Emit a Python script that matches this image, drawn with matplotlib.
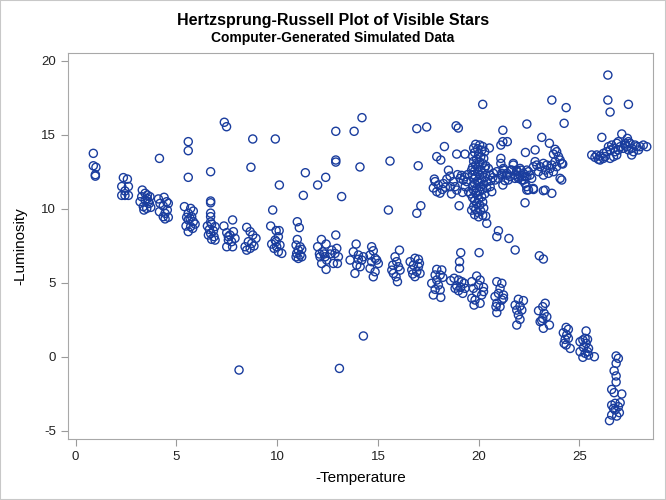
import matplotlib.pyplot as plt
from matplotlib.patches import Rectangle

# star positions (-temperature, -luminosity)
main_seq = [
    (0.88, 13.74), (0.88, 12.90), (1.01, 12.80), (0.98, 12.30), (0.98, 12.20),
    (2.37, 12.10), (2.57, 12.00), (2.29, 11.50), (2.62, 11.50), (2.45, 11.20), (2.29, 10.90), (2.45, 10.90), (2.62, 10.90),
    (3.31, 11.26), (3.45, 11.04), (3.56, 10.92), (3.69, 10.81), (3.20, 10.47), (3.45, 10.59), (3.61, 10.47), (3.36, 10.14),
    (3.53, 10.02), (3.73, 10.09), (3.39, 9.91), (3.66, 10.36), (3.28, 10.81), (3.56, 10.68),
    (4.11, 10.66), (4.39, 10.77), (4.52, 10.47), (4.19, 10.36), (4.35, 10.18), (4.60, 10.36), (4.16, 9.80), (4.44, 9.69),
    (4.55, 9.91), (4.35, 9.46), (4.60, 9.42), (4.44, 9.31),
    (5.40, 10.14), (5.71, 10.02), (5.84, 9.84), (5.59, 9.69), (5.51, 9.42), (5.68, 9.35), (5.76, 9.46), (5.59, 9.24),
    (5.84, 9.12), (5.48, 8.83), (5.71, 8.79), (5.93, 8.96), (5.59, 8.45), (5.81, 8.67),
    (6.70, 10.52), (6.70, 10.40), (6.70, 9.70), (6.70, 9.46), (6.70, 9.10), (6.54, 8.83), (6.75, 8.96), (6.92, 8.79),
    (6.64, 8.60), (6.84, 8.51), (6.70, 8.33), (6.59, 8.22), (6.87, 8.11), (6.75, 7.93), (6.92, 7.88),
    (7.79, 9.24), (7.36, 8.83), (7.50, 8.38), (7.66, 8.22), (7.83, 8.45), (7.91, 8.00), (7.58, 7.88), (7.74, 7.77),
    (7.50, 7.43), (7.79, 7.43), (7.58, 8.11),
    (8.49, 8.74), (8.66, 8.45), (8.79, 8.22), (8.95, 8.00), (8.57, 7.77), (8.74, 7.66), (8.41, 7.43), (8.66, 7.32),
    (8.85, 7.48), (8.49, 7.20),
    (9.68, 8.83), (9.95, 8.52), (10.10, 8.52), (9.73, 7.61), (9.90, 7.88), (10.06, 8.11), (9.98, 7.43), (10.14, 7.54),
    (9.85, 7.32), (10.06, 7.09), (10.23, 6.98), (9.95, 7.77),
    (11.00, 9.12), (11.10, 8.72), (11.00, 7.92), (10.94, 7.54), (11.14, 7.43), (11.05, 7.20), (11.22, 7.25), (10.97, 6.98),
    (11.14, 6.87), (11.05, 6.64), (11.22, 6.75), (10.94, 6.75),
    (12.01, 7.43), (12.20, 7.92), (12.43, 7.61), (12.10, 6.94), (12.26, 7.09), (12.38, 6.75), (12.21, 6.30), (12.46, 6.53),
    (12.71, 7.20), (12.96, 7.32), (12.87, 6.98), (13.04, 6.75), (12.79, 6.30), (12.99, 6.30), (12.43, 5.90), (12.13, 6.75),
    (12.33, 6.94), (12.63, 6.94), (12.91, 8.22),
    (13.92, 7.61), (13.78, 7.09), (14.03, 6.87), (14.20, 6.53), (13.95, 6.19), (14.12, 6.08), (13.86, 5.63), (13.62, 6.53),
    (14.28, 6.75), (14.03, 6.58),
    (14.69, 7.43), (14.77, 7.16), (14.61, 6.87), (14.86, 6.64), (14.69, 6.42), (14.94, 6.53), (14.61, 5.97), (14.86, 5.74),
    (14.77, 5.40), (15.02, 6.30),
    (16.07, 7.20), (15.85, 6.75), (15.93, 6.42), (15.74, 6.19), (16.02, 6.08), (15.77, 5.63), (15.90, 5.40), (16.10, 5.85),
    (15.97, 5.07), (15.69, 5.85),
    (16.60, 6.42), (16.84, 6.65), (17.01, 6.58), (16.76, 6.19), (17.01, 6.08), (16.68, 5.86), (16.93, 5.75), (17.09, 5.63),
    (16.84, 5.41), (16.73, 5.59), (17.06, 6.31),
    (17.92, 5.90), (18.17, 5.86), (17.84, 5.52), (18.09, 5.52), (17.67, 4.96), (17.92, 5.18), (18.00, 4.84), (17.84, 4.55),
    (18.09, 4.51), (17.75, 4.17), (18.12, 4.01), (18.22, 5.36),
    (19.05, 6.42), (19.05, 5.97), (18.61, 5.14), (18.78, 5.30), (19.00, 5.18), (19.16, 5.07), (19.28, 4.96), (18.91, 4.78),
    (19.11, 4.69), (19.32, 4.62), (19.00, 4.46), (19.21, 4.28), (18.83, 4.62),
    (19.90, 5.45), (20.07, 5.18), (19.66, 5.07), (19.99, 4.84), (20.24, 4.69), (19.74, 4.62), (19.90, 4.33), (20.15, 4.17),
    (19.66, 3.95), (19.82, 3.83), (20.07, 3.61), (20.24, 4.40), (19.77, 3.49),
    (20.90, 5.07), (21.15, 4.96), (21.06, 4.62), (20.98, 4.28), (21.23, 4.17), (20.81, 4.06), (21.15, 3.83), (20.90, 3.61),
    (21.06, 3.38), (20.86, 3.38), (20.90, 2.98), (21.23, 3.95),
    (21.97, 3.88), (22.22, 3.79), (21.81, 3.49), (22.05, 3.42), (21.89, 3.15), (22.14, 3.15), (21.97, 2.82), (22.05, 2.52),
    (21.89, 2.14),
    (23.30, 3.61), (23.18, 3.38), (22.97, 3.11), (23.25, 2.93), (23.38, 2.70), (23.18, 2.59), (23.51, 2.14), (23.13, 2.43),
    (23.21, 1.92), (23.05, 2.37),
    (24.34, 1.98), (24.45, 1.85), (24.20, 1.62), (24.37, 1.47), (24.29, 1.17), (24.45, 1.24), (24.34, 0.79), (24.54, 0.56),
    (24.24, 0.90),
    (25.33, 1.74), (25.28, 1.24), (25.17, 1.13), (25.40, 1.17), (25.03, 1.01), (25.33, 0.90), (25.20, 0.63), (25.45, 0.56),
    (25.03, 0.34), (25.28, 0.23), (25.45, 0.11), (25.17, -0.04), (25.74, 0.00), (25.40, 0.34),
    (26.82, 0.05), (26.93, -0.11), (26.82, -0.45), (26.72, -0.95), (26.82, -1.30), (26.82, -1.71), (26.60, -2.21),
    (26.72, -2.43), (27.10, -2.52), (26.60, -3.27), (26.77, -3.15), (26.93, -3.38), (26.69, -3.49), (26.98, -3.78),
    (26.77, -3.60), (26.60, -3.94), (26.85, -4.01), (26.49, -4.32), (27.02, -3.11),
]

dwarfs = [(8.11, -0.90), (13.09, -0.79), (14.28, 1.40)]

scattered = [
    (4.16, 13.40), (5.59, 14.53), (5.59, 13.92), (5.59, 12.12), (6.70, 12.50), (7.38, 15.84), (7.49, 15.54),
    (8.79, 14.71), (8.70, 12.80), (9.91, 14.71), (10.11, 11.60), (9.78, 9.91), (11.40, 12.43), (11.30, 10.90),
    (12.01, 11.60), (12.41, 12.12), (12.91, 15.23), (12.91, 13.29), (12.91, 13.15), (13.20, 10.82), (13.82, 15.23),
    (14.21, 16.15), (14.11, 12.82), (15.60, 13.22), (15.52, 9.91), (16.93, 9.69), (17.13, 10.20), (19.03, 10.20),
    (22.30, 10.40), (20.40, 9.01), (20.98, 8.51), (20.90, 8.11), (21.50, 7.99), (21.81, 7.21), (19.11, 7.03),
    (20.02, 7.03), (23.01, 6.82), (23.21, 6.60), (20.20, 17.05), (16.93, 15.41), (17.42, 15.52), (18.88, 15.60),
    (18.99, 15.45), (22.39, 15.72), (21.20, 15.30), (17.00, 12.90), (18.30, 14.20), (17.92, 13.52), (18.12, 13.29),
    (18.91, 13.69), (19.32, 13.69), (21.10, 14.30), (21.20, 14.53), (21.42, 14.53), (21.10, 13.40), (21.10, 13.06),
    (20.53, 14.10), (22.32, 13.80), (26.41, 19.03), (26.41, 17.34), (26.52, 16.53), (27.43, 17.05), (23.63, 17.34),
    (24.34, 16.83), (24.24, 15.77), (23.13, 14.82), (23.51, 14.42), (22.80, 13.97), (26.11, 14.82), (27.10, 15.05),
    (27.38, 14.75), (22.72, 11.30), (23.21, 11.22), (22.47, 11.27),
]

giants = [
    # band left of the vertical clump
    (17.84, 11.83), (18.00, 11.60), (17.92, 11.15), (18.08, 11.05), (18.25, 11.70), (18.42, 12.00), (18.58, 12.20),
    (18.50, 12.60), (18.74, 11.83), (18.83, 11.49), (18.91, 11.26), (19.08, 12.05), (19.24, 11.94), (19.41, 11.83),
    (19.33, 11.49), (19.50, 11.15), (18.60, 11.49), (17.75, 11.40), (18.20, 11.30), (18.35, 11.45), (18.95, 12.30),
    (19.15, 12.25), (19.30, 12.15), (19.45, 12.30), (17.80, 12.00), (18.65, 11.00), (19.20, 11.10),
    # vertical clump near 20
    (19.85, 14.35), (20.05, 14.30), (20.20, 14.20), (19.75, 14.10), (19.95, 14.05), (20.15, 13.95), (20.30, 13.85),
    (19.80, 13.80), (20.00, 13.70), (19.70, 13.55), (20.10, 13.50), (20.25, 13.40), (19.90, 13.35), (19.75, 13.20),
    (20.05, 13.15), (20.20, 13.05), (19.85, 12.95), (20.00, 12.85), (19.70, 12.80), (20.30, 12.75), (20.10, 12.65),
    (19.80, 12.55), (19.95, 12.50), (20.20, 12.40), (19.70, 12.30), (20.05, 12.25), (19.85, 12.15), (20.30, 12.10),
    (19.75, 12.00), (20.15, 11.95), (19.95, 11.85), (20.00, 11.75), (19.80, 11.70), (20.25, 11.65), (19.70, 11.55),
    (20.10, 11.50), (19.90, 11.40), (20.20, 11.30), (19.75, 11.25), (20.05, 11.15), (19.85, 11.05), (20.30, 11.00),
    (19.95, 10.90), (20.15, 10.80), (19.70, 10.75), (20.00, 10.65), (19.80, 10.55), (20.20, 10.45), (19.90, 10.35),
    (20.05, 10.25), (19.75, 10.15), (20.25, 10.05), (19.85, 9.95), (20.10, 9.85), (19.95, 9.75), (19.80, 9.60),
    (20.20, 9.55), (20.00, 9.45), (20.35, 9.50), (19.65, 9.90), (20.35, 12.90), (19.65, 12.60), (20.40, 11.40),
    (19.60, 11.00),
    # band right of the clump
    (20.48, 12.72), (20.57, 12.27), (20.73, 12.39), (20.82, 11.94), (20.98, 12.05), (21.15, 12.27), (21.23, 12.61),
    (21.40, 12.39), (21.56, 12.17), (21.72, 12.95), (21.89, 12.61), (22.05, 12.27), (22.22, 11.94), (22.39, 12.17),
    (22.47, 12.50), (21.97, 12.05), (22.30, 11.71), (22.39, 11.26), (20.57, 11.49), (20.65, 11.15), (20.40, 11.83),
    (20.60, 11.90), (20.90, 12.50), (21.30, 11.90), (21.60, 12.60), (21.80, 12.30), (22.10, 12.60), (21.20, 11.60),
    (20.70, 12.10),
    (21.14, 12.39), (21.39, 12.27), (21.64, 12.61), (21.72, 13.06), (21.89, 12.50), (22.05, 12.72), (22.22, 12.39),
    (22.39, 12.61), (22.55, 12.27), (22.72, 12.84), (22.80, 13.18), (22.88, 12.95), (23.05, 12.84), (23.21, 13.06),
    (23.30, 12.61), (23.38, 12.95), (23.46, 12.39), (23.55, 12.72), (23.71, 12.50), (22.97, 12.50), (21.47, 11.94),
    (21.80, 12.05), (22.30, 12.16), (22.63, 12.05), (23.21, 12.27), (21.23, 12.72), (24.04, 12.05), (24.12, 11.94),
    (22.38, 11.49), (22.71, 11.37), (23.30, 11.26), (23.63, 11.04), (22.14, 11.94), (21.97, 12.16),
    (23.79, 14.01), (23.87, 13.85), (23.71, 13.69), (23.96, 13.52), (24.04, 13.29), (24.12, 13.06), (23.79, 13.18),
    (23.63, 12.95), (23.87, 12.84), (24.17, 13.02),
    # horizontal branch on the right
    (25.61, 13.63), (25.77, 13.47), (25.94, 13.34), (25.86, 13.63), (26.02, 13.56), (26.19, 13.74), (26.35, 13.85),
    (26.27, 13.52), (26.52, 13.97), (26.44, 14.19), (26.60, 14.30), (26.69, 14.08), (26.77, 13.85), (26.85, 14.42),
    (26.93, 13.97), (26.85, 13.63), (26.69, 13.52), (26.52, 13.40), (27.02, 14.19), (27.18, 14.08), (27.27, 14.30),
    (27.35, 14.19), (27.43, 13.97), (27.51, 14.42), (27.59, 14.08), (27.68, 13.85), (27.84, 14.19), (27.93, 13.97),
    (28.01, 14.19), (27.76, 14.30), (27.43, 14.53), (27.27, 14.42), (27.59, 13.63), (28.17, 14.30), (28.34, 14.19),
    (26.19, 13.40), (26.02, 13.29), (26.93, 14.53),
]

plt.rcParams['font.family'] = ['Liberation Sans', 'DejaVu Sans']
plt.rcParams['axes.unicode_minus'] = False
color = '#1a3d9e'

fig = plt.figure(figsize=(6.66, 5), dpi=100)
ax = fig.add_axes([0.102, 0.122, 0.8785, 0.772])

for group in (main_seq, dwarfs, scattered, giants):
    xs, ys = zip(*group)
    ax.scatter(xs, ys, s=34, facecolors='none', edgecolors=color, linewidths=1)

ax.set_xlim(-0.38, 28.65)
ax.set_ylim(-5.56, 20.52)
ax.set_xticks([0, 5, 10, 15, 20, 25])
ax.set_yticks([-5, 0, 5, 10, 15, 20])
ax.tick_params(direction='out', length=5, color='#9a9a9a', labelsize=9.5, labelcolor='#222222')
for s in ax.spines.values():
    s.set_color('#a8a8a8')

fig.text(0.5, 1 - 20 / 500, 'Hertzsprung-Russell Plot of Visible Stars', ha='center', va='center',
         fontsize=11.5, fontweight='bold')
fig.text(0.5, 1 - 38 / 500, 'Computer-Generated Simulated Data', ha='center', va='center',
         fontsize=10, fontweight='bold')
fig.text(0.542, 1 - 478 / 500, '-Temperature', ha='center', va='center', fontsize=11)
fig.text(0.03, 0.508, '-Luminosity', ha='center', va='center', rotation=90, fontsize=11)

fig.patches.append(Rectangle((0, 0), 1, 1, transform=fig.transFigure, fill=False,
                             edgecolor='#c8c8c8', lw=1.5))

plt.savefig('out.png', dpi=100)
